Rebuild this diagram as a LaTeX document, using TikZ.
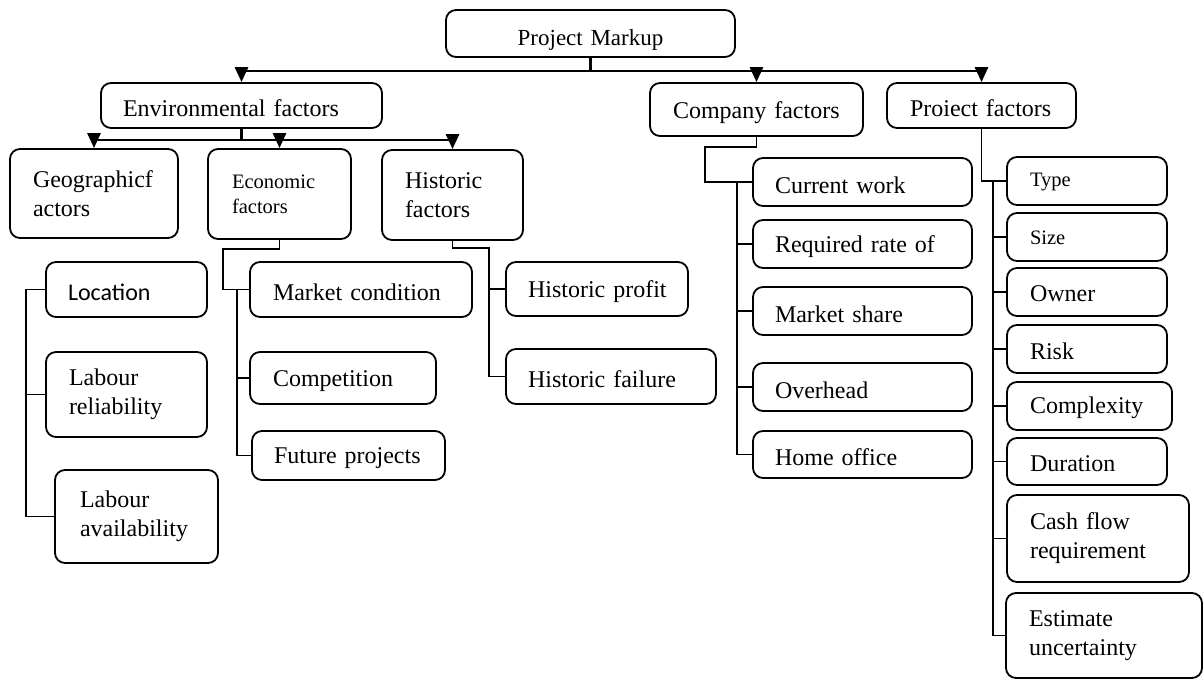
\documentclass[tikz,border=0pt]{standalone}
\usepackage{fontspec}
\setmainfont{Liberation Serif}
\newfontfamily\calfont{Carlito}
\usetikzlibrary{arrows.meta}
\tikzset{
  box/.style={draw, line width=1.8pt, rounded corners=10pt, align=left, inner ysep=0pt,
    font=\fontsize{24}{29}\selectfont},
  small/.style={font=\fontsize{20.5}{25}\selectfont},
  sanslabel/.style={font=\calfont\fontsize{24}{29}\selectfont},
  link/.style={line width=1.8pt},
  stem/.style={line width=2.8pt},
  trunk/.style={line width=2.8pt, -{Triangle[length=15pt,width=13pt]}},
}
\newcommand\dn[2][3pt]{\raisebox{-#1}[\height][\depth]{#2}}
\newcommand\bx[8][]{%
  \pgfmathsetmacro\bxw{#5-#3}%
  \pgfmathsetmacro\bxh{#6-#4}%
  \pgfmathsetmacro\bxt{#5-#3-2*#7}%
  \node[box, minimum width=\bxw pt, minimum height=\bxh pt, text width=\bxt pt,
        inner xsep=#7pt, #1] (#2) at ({(#3+#5)/2},{(#4+#6)/2}) {#8};}
\begin{document}
\begin{tikzpicture}[x=1pt,y=-1pt]
\useasboundingbox (0,0) rectangle (1203,680);

% level 0 and 1
\bx[align=center,font=\fontsize{23}{28}\selectfont]{pm}{446}{10}{735}{57}{10}{\dn[6pt]{Project~Markup}}
\bx{env}{101}{83}{382}{128}{22}{\dn{Environmental~factors}}
\bx{cf}{650}{83}{863}{136}{23}{\dn{Company~factors}}
\bx{pf}{887}{83}{1076}{128}{23}{\dn{Proiect~factors}}

% environmental children
\bx{geo}{10}{149}{178}{238}{23}{Geographicf\\actors}
\bx[small]{eco}{208}{149}{351}{239}{24}{Economic\\factors}
\bx{his}{382}{150}{523}{240}{23}{Historic\\factors}

% geographic list
\bx[sanslabel]{loc}{46}{262}{207}{317}{22}{\dn{Location}}
\bx{lr}{46}{352}{207}{437}{23}{Labour\\reliability}
\bx{la}{55}{470}{218}{563}{25}{Labour\\availability}

% economic list
\bx{mc}{250}{262}{472}{317}{23}{\dn{Market~condition}}
\bx{comp}{250}{352}{436}{404}{23}{\dn{Competition}}
\bx{fut}{252}{431}{445}{480}{22}{\dn{Future~projects}}

% historic list
\bx{hp}{506}{262}{688}{316}{22}{\dn{Historic~profit}}
\bx{hf}{506}{349}{716}{404}{22}{\dn{Historic~failure}}

% company list
\bx{cw}{753}{158}{972}{206}{22}{\dn{Current~work}}
\bx{rr}{753}{220}{972}{268}{22}{\dn{Required~rate~of}}
\bx{ms}{753}{287}{972}{335}{22}{\dn{Market~share}}
\bx{oh}{753}{363}{972}{411}{22}{\dn{Overhead}}
\bx{ho}{753}{431}{972}{478}{22}{\dn{Home~office}}

% project list
\bx[small]{ty}{1007}{157}{1167}{205}{23}{\dn[1pt]{Type}}
\bx[small]{sz}{1007}{213}{1167}{261}{23}{\dn[1pt]{Size}}
\bx{ow}{1007}{268}{1167}{316}{23}{\dn[2pt]{Owner}}
\bx{ri}{1007}{325}{1167}{373}{23}{\dn[2pt]{Risk}}
\bx{cx}{1007}{382}{1172}{430}{23}{\dn[2pt]{Complexity}}
\bx{du}{1007}{438}{1167}{485}{23}{\dn[2pt]{Duration}}
\bx{cfr}{1007}{495}{1189}{582}{23}{Cash flow\\requirement}
\bx{eu}{1006}{593}{1202}{678}{23}{Estimate\\uncertainty}

% top connectors
\draw[stem] (pm.south) -- ++(0,13) coordinate (pmj);
\draw[trunk] (pmj) -| (env.north);
\draw[trunk] (pmj) -| (cf.north);
\draw[trunk] (pmj) -| (pf.north);

\draw[stem] (env.south) -- ++(0,11) coordinate (envj);
\draw[trunk] (envj) -| (geo.north);
\draw[trunk] (envj) -| (eco.north);
\draw[trunk] (envj) -| (his.north);

% geographic spine
\coordinate (gx) at (26,0);
\draw[link] (loc.west) -- (loc.west -| gx) |- (la.west);
\draw[link] (loc.west -| gx) |- (lr.west);

% economic
\coordinate (ej) at (223,249);
\coordinate (ex) at (237,0);
\draw[link] (eco.south) |- (ej) |- (mc.west);
\draw[link] (mc.west -| ex) |- (comp.west);
\draw[link] (mc.west -| ex) |- (fut.west);

% historic
\coordinate (hj) at (489,248);
\coordinate (hx) at (489,0);
\draw[link] (his.south) |- (hj) |- (hp.west);
\draw[link] (hp.west -| hx) |- (hf.west);

% company
\coordinate (cj) at (705,147);
\coordinate (cxx) at (737,0);
\draw[link] (cf.south) |- (cj) |- (cw.west);
\draw[link] (cw.west -| cxx) |- (rr.west);
\draw[link] (cw.west -| cxx) |- (ms.west);
\draw[link] (cw.west -| cxx) |- (oh.west);
\draw[link] (cw.west -| cxx) |- (ho.west);

% project
\coordinate (px) at (993,0);
\draw[link] (pf.south) |- (ty.west);
\foreach \t in {sz,ow,ri,cx,du,cfr,eu}
  \draw[link] (ty.west -| px) |- (\t.west);
\end{tikzpicture}
\end{document}
